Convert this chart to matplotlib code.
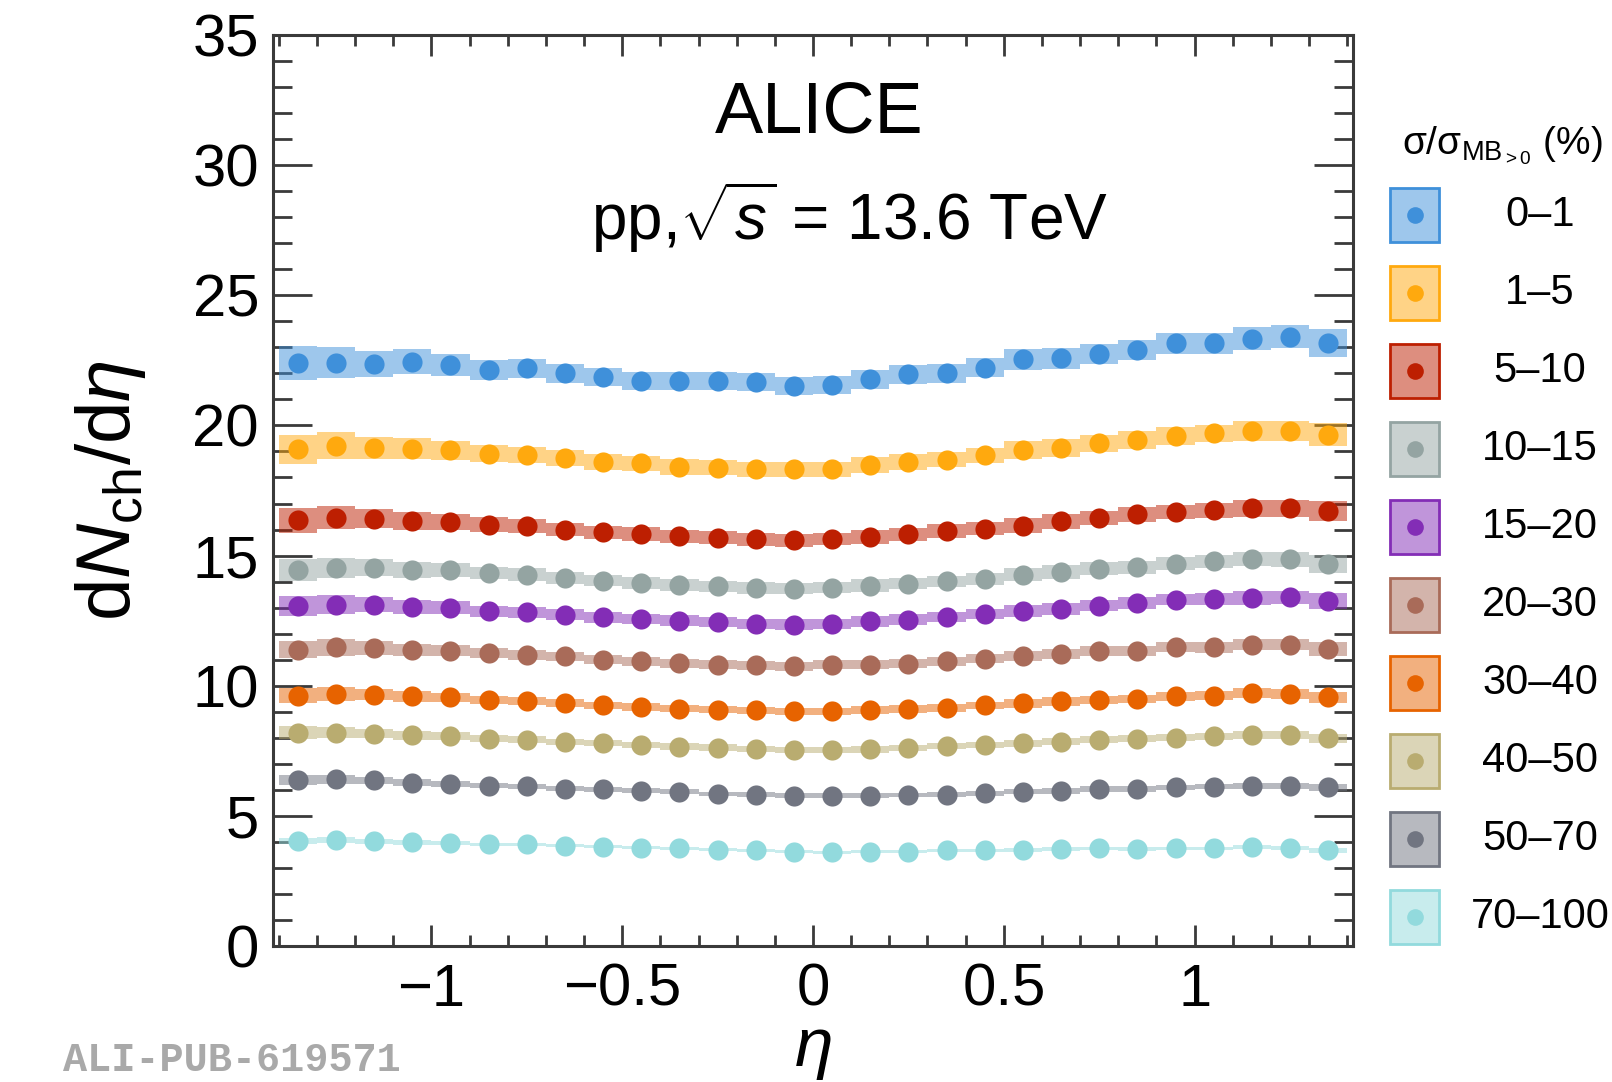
import numpy as np
import matplotlib
matplotlib.use("Agg")
import matplotlib.pyplot as plt
from matplotlib.patches import Rectangle
from matplotlib.ticker import MultipleLocator, FuncFormatter

plt.rcParams["font.family"] = ["Liberation Sans", "DejaVu Sans"]
plt.rcParams["mathtext.fontset"] = "custom"
plt.rcParams["mathtext.rm"] = "Liberation Sans"
plt.rcParams["mathtext.it"] = "Liberation Sans:italic"
plt.rcParams["mathtext.bf"] = "Liberation Sans:bold"
plt.rcParams["axes.unicode_minus"] = True

# pseudorapidity bin centres (bin width 0.1)
eta = [-1.35, -1.25, -1.15, -1.05, -0.95, -0.85, -0.75, -0.65, -0.55, -0.45,
       -0.35, -0.25, -0.15, -0.05, 0.05, 0.15, 0.25, 0.35, 0.45, 0.55,
       0.65, 0.75, 0.85, 0.95, 1.05, 1.15, 1.25, 1.35]

# relative systematic uncertainty per bin (%)
rel_sys = [2.9, 2.7, 2.2, 2.1, 1.9, 1.7, 1.7, 1.6, 1.6, 1.6, 1.6, 1.6, 1.6, 1.6,
           1.55, 1.7, 1.6, 1.6, 1.6, 1.8, 1.8, 1.7, 1.7, 1.7, 1.7, 1.9, 1.9, 2.3]

classes = ["0\u20131", "1\u20135", "5\u201310", "10\u201315", "15\u201320",
           "20\u201330", "30\u201340", "40\u201350", "50\u201370", "70\u2013100"]

colors = ["#3f90da", "#ffa90e", "#bd1f01", "#94a4a2", "#832db6",
          "#a96b59", "#e76300", "#b9ac70", "#717581", "#92dadd"]

dndeta_0_1 = [22.41, 22.41, 22.37, 22.45, 22.32, 22.13, 22.19, 22.00, 21.87, 21.72,
              21.72, 21.71, 21.68, 21.53, 21.55, 21.77, 21.96, 22.00, 22.22, 22.54,
              22.58, 22.73, 22.90, 23.15, 23.15, 23.33, 23.41, 23.18]
dndeta_1_5 = [19.08, 19.21, 19.14, 19.10, 19.04, 18.91, 18.86, 18.76, 18.60, 18.54,
              18.40, 18.38, 18.31, 18.31, 18.31, 18.47, 18.59, 18.69, 18.85, 19.04,
              19.14, 19.31, 19.44, 19.59, 19.69, 19.78, 19.78, 19.65]
dndeta_5_10 = [16.35, 16.45, 16.41, 16.32, 16.29, 16.19, 16.13, 16.00, 15.90, 15.83,
               15.74, 15.68, 15.62, 15.58, 15.64, 15.72, 15.81, 15.94, 16.03, 16.15,
               16.32, 16.45, 16.58, 16.67, 16.74, 16.81, 16.81, 16.71]
dndeta_10_15 = [14.46, 14.53, 14.53, 14.44, 14.44, 14.33, 14.27, 14.14, 14.04, 13.95,
                13.88, 13.82, 13.76, 13.73, 13.76, 13.85, 13.92, 14.01, 14.10, 14.27,
                14.37, 14.49, 14.55, 14.69, 14.78, 14.87, 14.85, 14.68]
dndeta_15_20 = [13.05, 13.12, 13.12, 13.03, 12.99, 12.86, 12.82, 12.73, 12.63, 12.56,
                12.50, 12.44, 12.37, 12.35, 12.38, 12.47, 12.54, 12.64, 12.76, 12.88,
                12.95, 13.08, 13.18, 13.31, 13.33, 13.37, 13.40, 13.24]
dndeta_20_30 = [11.38, 11.47, 11.45, 11.38, 11.35, 11.26, 11.19, 11.13, 11.00, 10.94,
                10.87, 10.81, 10.78, 10.74, 10.81, 10.81, 10.85, 10.94, 11.03, 11.15,
                11.22, 11.32, 11.32, 11.49, 11.47, 11.58, 11.58, 11.42]
dndeta_30_40 = [9.62, 9.68, 9.65, 9.59, 9.55, 9.46, 9.42, 9.33, 9.24, 9.18,
                9.12, 9.08, 9.05, 9.01, 9.01, 9.05, 9.10, 9.14, 9.24, 9.33,
                9.40, 9.46, 9.49, 9.59, 9.62, 9.72, 9.68, 9.55]
dndeta_40_50 = [8.20, 8.20, 8.16, 8.10, 8.05, 7.97, 7.92, 7.84, 7.79, 7.73,
                7.66, 7.62, 7.56, 7.54, 7.54, 7.56, 7.60, 7.69, 7.73, 7.79,
                7.85, 7.92, 7.97, 8.01, 8.05, 8.11, 8.11, 7.98]
dndeta_50_70 = [6.37, 6.41, 6.37, 6.28, 6.22, 6.16, 6.13, 6.05, 6.03, 5.96,
                5.93, 5.84, 5.81, 5.77, 5.77, 5.77, 5.80, 5.81, 5.86, 5.93,
                5.96, 6.03, 6.03, 6.09, 6.12, 6.16, 6.16, 6.09]
dndeta_70_100 = [4.05, 4.07, 4.02, 3.98, 3.96, 3.90, 3.90, 3.86, 3.82, 3.77,
                 3.75, 3.70, 3.67, 3.63, 3.60, 3.63, 3.63, 3.67, 3.67, 3.69,
                 3.73, 3.75, 3.73, 3.75, 3.75, 3.79, 3.77, 3.67]

series = [dndeta_0_1, dndeta_1_5, dndeta_5_10, dndeta_10_15, dndeta_15_20,
          dndeta_20_30, dndeta_30_40, dndeta_40_50, dndeta_50_70, dndeta_70_100]

W, H = 1612, 1082
fig = plt.figure(figsize=(W / 100, H / 100), dpi=100)
ax = fig.add_axes([273 / W, 1 - 946 / H, (1353 - 273) / W, (946 - 35) / H])

x = np.array(eta)
rs = np.array(rel_sys) / 100.0
for vals, col in zip(series, colors):
    y = np.array(vals)
    s = y * rs
    ax.bar(x, 2 * s, bottom=y - s, width=0.1, color=col, alpha=0.5,
           linewidth=0, zorder=2)
    ax.plot(x, y, "o", color=col, ms=14.5, mec="none", zorder=3)

ax.set_xlim(-1.415, 1.415)
ax.set_ylim(0, 35)

frame_col = "#3a3a3a"
for sp in ax.spines.values():
    sp.set_color(frame_col)
    sp.set_linewidth(2.2)

ax.xaxis.set_major_locator(MultipleLocator(0.5))
ax.xaxis.set_minor_locator(MultipleLocator(0.1))
ax.yaxis.set_major_locator(MultipleLocator(5))
ax.yaxis.set_minor_locator(MultipleLocator(1))
ax.xaxis.set_major_formatter(FuncFormatter(lambda v, p: ("%g" % v).replace("-", "\u2212")))
ax.yaxis.set_major_formatter(FuncFormatter(lambda v, p: "%g" % v))

ax.tick_params(which="both", direction="in", top=True, right=True,
               color=frame_col, width=2.0, labelsize=43)
ax.tick_params(axis="x", which="major", length=15, pad=12)
ax.tick_params(axis="x", which="minor", length=8)
ax.tick_params(axis="y", which="major", length=28, pad=10)
ax.tick_params(axis="y", which="minor", length=14)

ax.set_ylabel(r"d$N_{\mathrm{ch}}$/d$\eta$", fontsize=55, labelpad=32)
ax.set_xlabel(r"$\eta$", fontsize=50, labelpad=0)

ax.text(0.5056, 0.913, "ALICE", transform=ax.transAxes, ha="center",
        va="center", fontsize=52)
ax.text(0.534, 0.80, r"pp,$\sqrt{s}$ = 13.6 TeV", transform=ax.transAxes,
        ha="center", va="center", fontsize=46)

# legend panel in pixel coordinates
lax = fig.add_axes([1380 / W, 1 - 960 / H, (W - 1380) / W, (960 - 100) / H])
lax.set_xlim(1380, W)
lax.set_ylim(960, 100)
lax.axis("off")
lax.text(1402, 146, "\u03c3/\u03c3$_{\\mathregular{MB}_{>0}}$ (%)", ha="left",
         va="center", fontsize=28, clip_on=False)
for i, (lab, col) in enumerate(zip(classes, colors)):
    yc = 215 + 78 * i
    lax.add_patch(Rectangle((1390, yc - 27), 49, 54, facecolor=col, alpha=0.5,
                            edgecolor="none"))
    lax.add_patch(Rectangle((1390, yc - 27), 49, 54, facecolor="none",
                            edgecolor=col, linewidth=2))
    lax.plot([1414.5], [yc], "o", color=col, ms=12, mec="none")
    lax.text(1540, yc, lab, ha="center", va="center", fontsize=30)

fig.text(63 / W, 1 - 1060 / H, "ALI-PUB-619571", family="Liberation Mono",
         weight="bold", color="#a9a9a9", fontsize=29, va="center", ha="left")

fig.savefig("out.png", dpi=100)
